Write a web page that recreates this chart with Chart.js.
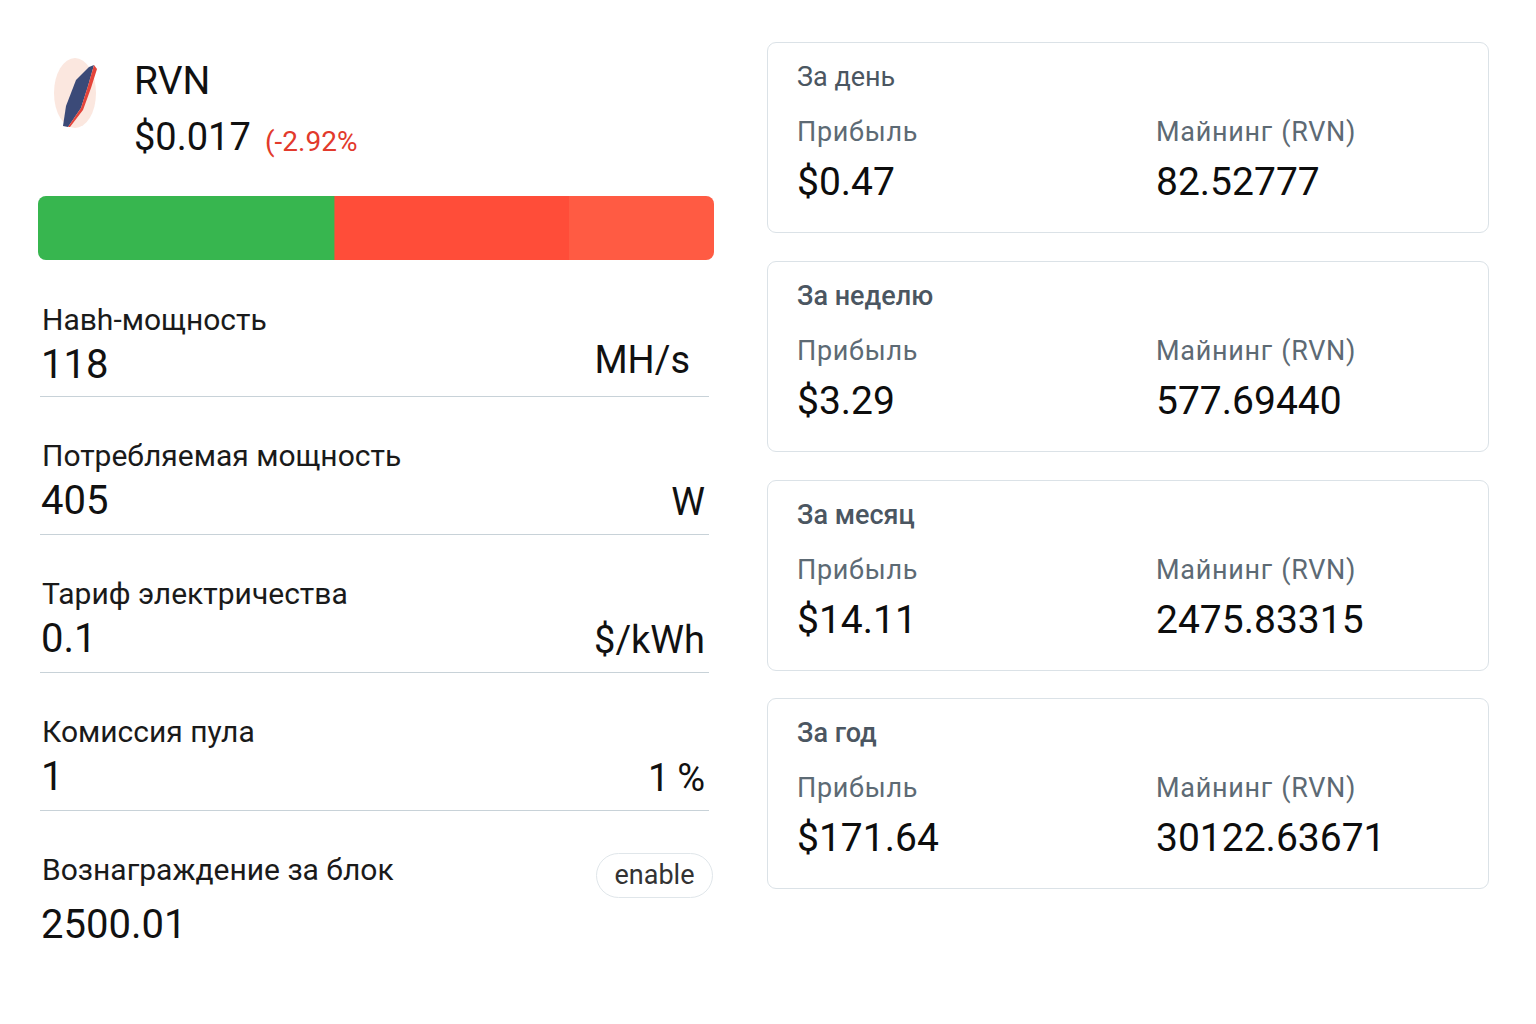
<!DOCTYPE html>
<html lang="ru">
<head>
<meta charset="utf-8">
<title>RVN</title>
<script src="https://cdn.jsdelivr.net/npm/chart.js@4.4.1/dist/chart.umd.min.js"></script>
<style>
  html, body { margin:0; padding:0; background:#fff; }
  body { width:1536px; height:1024px; position:relative; overflow:hidden; font-family: Roboto, "Noto Sans", sans-serif; color:#111; }
  .t { position:absolute; white-space:nowrap; line-height:1; }
  .lbl { font-size:30px; color:#1a1a1a; }
  .val { font-size:40px; color:#111; }
  .unit { font-size:38px; color:#111; text-align:right; }
  .line { position:absolute; left:40px; width:669px; height:0; border-top:1.5px solid #c8d2d8; }
  .card { position:absolute; left:767px; width:722px; height:191px; border:1.5px solid #dbe2e7; border-radius:9px; box-sizing:border-box; }
  .ctitle { font-size:27px; color:#4b5661; }
  .clbl { font-size:27px; color:#5d6a74; letter-spacing:0.7px; word-spacing:1px; }
  .cval { font-size:39px; color:#0d0d0d; }
  #barWrap { position:absolute; left:38px; top:196px; width:676px; height:64px; border-radius:8px; overflow:hidden; box-shadow: inset 0 0 0 1px rgba(0,0,0,0.06); }
  .btn { position:absolute; left:596px; top:853px; width:117px; height:45px; border:1.5px solid #e0e6ea; border-radius:23px; box-sizing:border-box; font-size:27px; color:#333; text-align:center; line-height:42px; }
</style>
</head>
<body>
<script>
// ---- data ----
const coinName = 'RVN';
const coinPrice = '$0.017';
const coinChange = '(-2.92%';
const barCategories = ['RVN'];
const barSegmentNames = ['Прибыль', 'Расходы', 'Комиссия'];
const barSegmentValues = [43.8, 34.7, 21.5];
const barSegmentColors = ['#37b64f', '#ff4d39', '#ff5b43'];
const inputLabels = ['Навh-мощность', 'Потребляемая мощность', 'Тариф электричества', 'Комиссия пула', 'Вознаграждение за блок'];
const inputValues = ['118', '405', '0.1', '1', '2500.01'];
const inputUnits = ['MH/s', 'W', '$/kWh', '1\u2009%', ''];
const periodTitles = ['За день', 'За неделю', 'За месяц', 'За год'];
const profitValues = ['$0.47', '$3.29', '$14.11', '$171.64'];
const miningValues = ['82.52777', '577.69440', '2475.83315', '30122.63671'];
const profitLabel = 'Прибыль';
const miningLabel = 'Майнинг (RVN)';
</script>

<svg style="position:absolute;left:48px;top:56px" width="60" height="76" viewBox="0 0 60 76">
  <ellipse cx="27" cy="37" rx="21" ry="35" fill="#fbe7df"/>
  <path d="M46 9 L40 30 L33 52 L20 71 L15 70 L18 50 L28 24 L41 11 Z" fill="#3b4a78"/>
  <path d="M46 9 L49 13 L43 32 L35 54 L22 71 L20 71 L33 52 L40 30 Z" fill="#e4443a"/>
</svg>

<div class="t" id="coinName" style="left:134px;top:62px;font-size:39px;"></div>
<div class="t" id="coinPrice" style="left:134px;top:118px;font-size:38px;"></div>
<div class="t" id="coinChange" style="left:265px;top:128px;font-size:28px;color:#e23a2c;"></div>

<div id="barWrap"><canvas id="bar" width="676" height="64"></canvas></div>

<div id="inputs"></div>
<div class="btn">enable</div>
<div id="cards"></div>

<script>
document.getElementById('coinName').textContent = coinName;
document.getElementById('coinPrice').textContent = coinPrice;
document.getElementById('coinChange').textContent = coinChange;

// inputs section
const labelTops = [305, 441, 579, 717, 855];
const valueTops = [345, 481, 619, 757, 905];
const unitTops = [341, 483, 621, 759];
const unitRights = [846, 831, 831, 831];
const lineTops = [396, 534, 672, 810];
const inp = document.getElementById('inputs');
inputLabels.forEach((l, i) => {
  const a = document.createElement('div');
  a.className = 't lbl'; a.style.left = '42px'; a.style.top = labelTops[i] + 'px'; a.textContent = l; inp.appendChild(a);
  const v = document.createElement('div');
  v.className = 't val'; v.style.left = '41px'; v.style.top = valueTops[i] + 'px'; v.textContent = inputValues[i]; inp.appendChild(v);
  if (inputUnits[i]) {
    const u = document.createElement('div');
    u.className = 't unit'; u.style.right = unitRights[i] + 'px'; u.style.top = unitTops[i] + 'px'; u.textContent = inputUnits[i]; inp.appendChild(u);
  }
  if (i < lineTops.length) {
    const ln = document.createElement('div');
    ln.className = 'line'; ln.style.top = lineTops[i] + 'px'; inp.appendChild(ln);
  }
});

// cards
const cardTops = [42, 261, 480, 698];
const cards = document.getElementById('cards');
periodTitles.forEach((title, i) => {
  const c = document.createElement('div');
  c.className = 'card'; c.style.top = cardTops[i] + 'px'; cards.appendChild(c);
  const top = cardTops[i];
  const add = (cls, left, t, txt, extra) => {
    const d = document.createElement('div');
    d.className = 't ' + cls; d.style.left = left + 'px'; d.style.top = t + 'px'; d.textContent = txt;
    if (extra) Object.assign(d.style, extra);
    cards.appendChild(d);
  };
  add('ctitle', 797, top + 22, title, { fontWeight: i === 0 ? '400' : '500' });
  add('clbl', 797, top + 77, profitLabel);
  add('clbl', 1156, top + 77, miningLabel);
  add('cval', 797, top + 121, profitValues[i]);
  add('cval', 1156, top + 121, miningValues[i]);
});

// stacked bar
new Chart(document.getElementById('bar'), {
  type: 'bar',
  data: {
    labels: barCategories,
    datasets: barSegmentNames.map((n, i) => ({
      label: n,
      data: [barSegmentValues[i]],
      backgroundColor: barSegmentColors[i],
      borderWidth: 0,
      barPercentage: 1,
      categoryPercentage: 1
    }))
  },
  options: {
    indexAxis: 'y',
    responsive: false,
    animation: false,
    layout: { padding: 0 },
    plugins: { legend: { display: false }, tooltip: { enabled: false } },
    scales: {
      x: { stacked: true, display: false, min: 0, max: 100 },
      y: { stacked: true, display: false }
    }
  }
});
</script>
</body>
</html>
